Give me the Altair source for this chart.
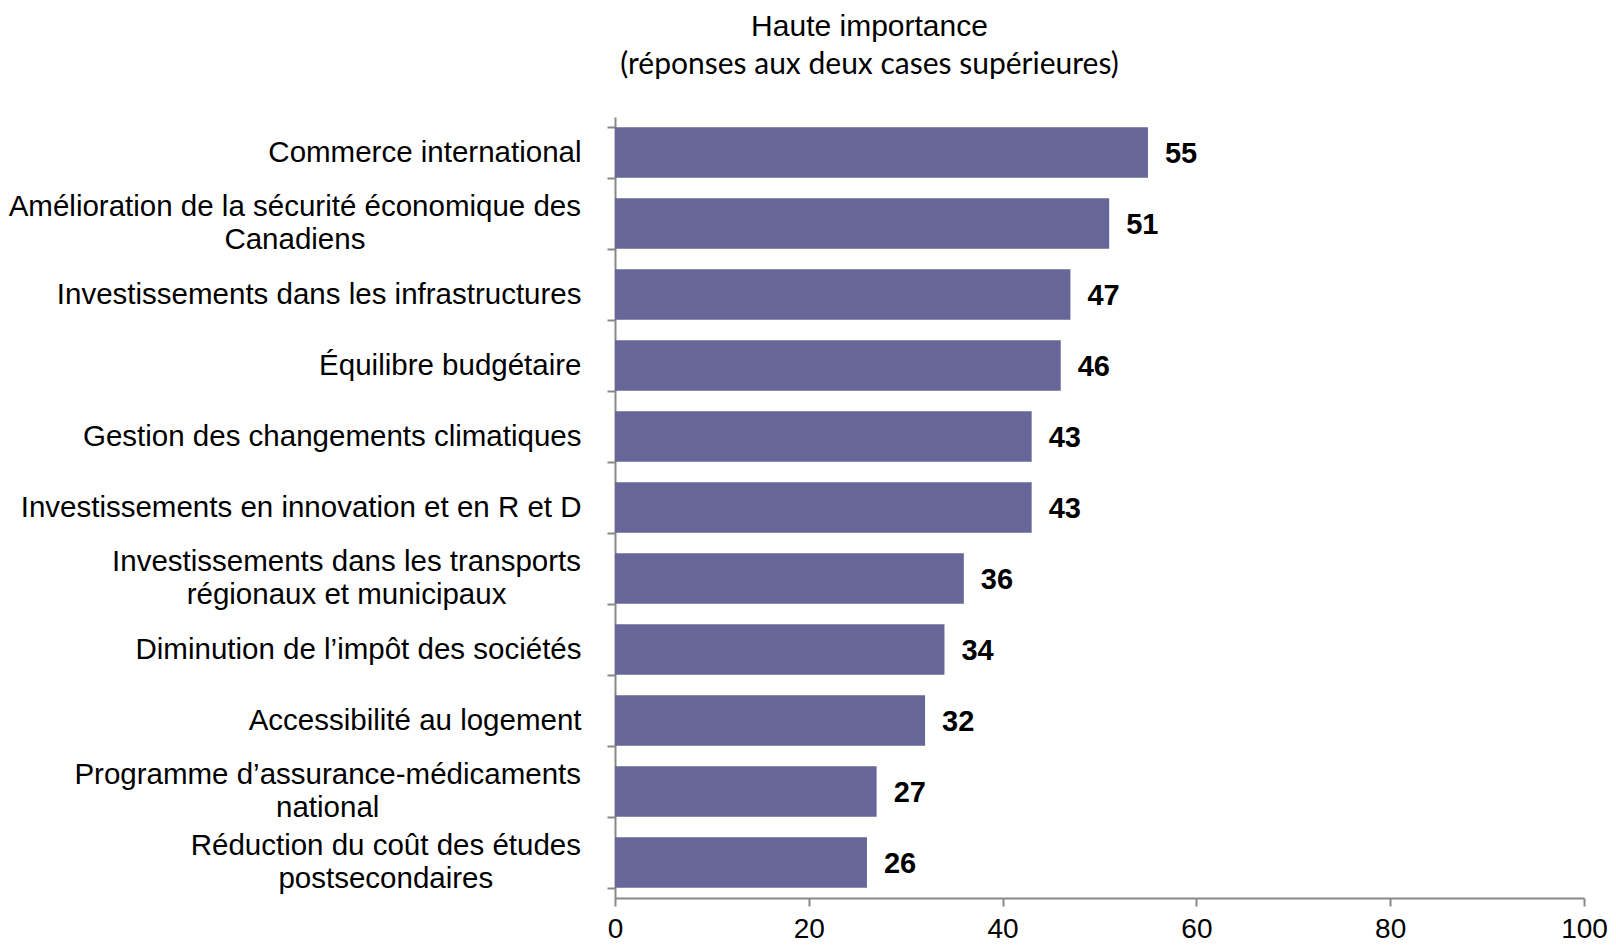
import altair as alt
import pandas as pd

categories = [
    "Commerce international",
    "Amélioration de la sécurité économique des|Canadiens",
    "Investissements dans les infrastructures",
    "Équilibre budgétaire",
    "Gestion des changements climatiques",
    "Investissements en innovation et en R et D",
    "Investissements dans les transports|régionaux et municipaux",
    "Diminution de l’impôt des sociétés",
    "Accessibilité au logement",
    "Programme d’assurance-médicaments|national",
    "Réduction du coût des études|postsecondaires",
]
values = [55, 51, 47, 46, 43, 43, 36, 34, 32, 27, 26]
x_ticks = [0, 20, 40, 60, 80, 100]

TITLE = "Haute importance"
SUBTITLE = "(réponses aux deux cases supérieures)"

FONT = "Liberation Sans"
GREY = "#888888"
LABEL_SIZE = 29.5
LINE_H = 33
TICK = 8
LABEL_PAD = 26

# approximate Arial / Liberation Sans advance widths (per 1000 em), used to
# centre the second line of a two-line label under its first line
W = {" ": 278, "a": 556, "b": 556, "c": 500, "d": 556, "e": 556, "f": 278, "g": 556,
     "h": 556, "i": 222, "j": 222, "k": 500, "l": 222, "m": 833, "n": 556, "o": 556,
     "p": 556, "q": 556, "r": 333, "s": 500, "t": 278, "u": 556, "v": 500, "w": 722,
     "x": 500, "y": 500, "z": 500, "é": 556, "è": 556, "û": 556, "ô": 556, "’": 222,
     "-": 333, "A": 667, "C": 722, "D": 722, "R": 722, "P": 667, "G": 778, "I": 278,
     "É": 667}


def text_width(s):
    return sum(W.get(ch, 556) for ch in s) / 1000 * LABEL_SIZE


df = pd.DataFrame({"cat": categories, "val": values})

y_enc = alt.Y(
    "cat:N",
    sort=categories,
    scale=alt.Scale(paddingInner=0.287, paddingOuter=0.1435),
    axis=alt.Axis(
        title=None,
        labelExpr="indexof(datum.label, '|') >= 0 ? '' : datum.label",
        labelFont=FONT,
        labelFontSize=LABEL_SIZE,
        labelColor="black",
        labelLimit=0,
        labelPadding=LABEL_PAD,
        tickBand="extent",
        tickSize=TICK,
        tickColor=GREY,
        tickWidth=2,
        domainColor=GREY,
        domainWidth=2,
    ),
)

x_enc = alt.X(
    "val:Q",
    scale=alt.Scale(domain=[0, 100], nice=False),
    axis=alt.Axis(
        title=None,
        values=x_ticks,
        grid=False,
        labelFont=FONT,
        labelFontSize=28,
        labelColor="black",
        labelPadding=9,
        tickSize=TICK,
        tickColor=GREY,
        tickWidth=2,
        domainColor=GREY,
        domainWidth=2,
        labelFlush=False,
    ),
)

base = alt.Chart(df)

bars = base.mark_bar(color="#666699").encode(y=y_enc, x=x_enc)

text = base.mark_text(
    align="left", baseline="middle", dx=17, dy=1,
    font=FONT, fontSize=29, fontWeight="bold", color="black",
).encode(y=alt.Y("cat:N", sort=categories), x="val:Q", text="val:Q")

layers = [bars, text]

# two-line category labels: first line right-aligned like the axis labels,
# second line centred under it
right_edge = -(TICK + LABEL_PAD)
for cat in categories:
    if "|" not in cat:
        continue
    first, second = cat.split("|")
    centre = right_edge - text_width(first) / 2
    one = pd.DataFrame({"cat": [cat], "first": [first], "second": [second]})
    layers.append(
        alt.Chart(one)
        .mark_text(align="right", baseline="middle", dy=-LINE_H / 2,
                   font=FONT, fontSize=LABEL_SIZE, color="black")
        .encode(y=alt.Y("cat:N", sort=categories), x=alt.value(right_edge), text="first:N")
    )
    layers.append(
        alt.Chart(one)
        .mark_text(align="center", baseline="middle", dy=LINE_H / 2,
                   font=FONT, fontSize=LABEL_SIZE, color="black")
        .encode(y=alt.Y("cat:N", sort=categories), x=alt.value(centre), text="second:N")
    )

chart = (
    alt.layer(*layers)
    .properties(
        width=969,
        height=781,
        padding={"left": 607, "top": 109, "right": 24, "bottom": 49},
        autosize=alt.AutoSizeParams(type="none"),
        title=alt.TitleParams(
            text=TITLE,
            subtitle=SUBTITLE,
            anchor="middle",
            frame="group",
            dx=-230,
            offset=22,
            font=FONT,
            fontSize=30,
            fontWeight="normal",
            color="black",
            subtitleFont="Lato",
            subtitleFontSize=30,
            subtitleColor="black",
            subtitlePadding=8,
        ),
    )
    .configure_view(stroke=None)
)

chart.save("out.html", embed_options={"renderer": "svg", "actions": False})
